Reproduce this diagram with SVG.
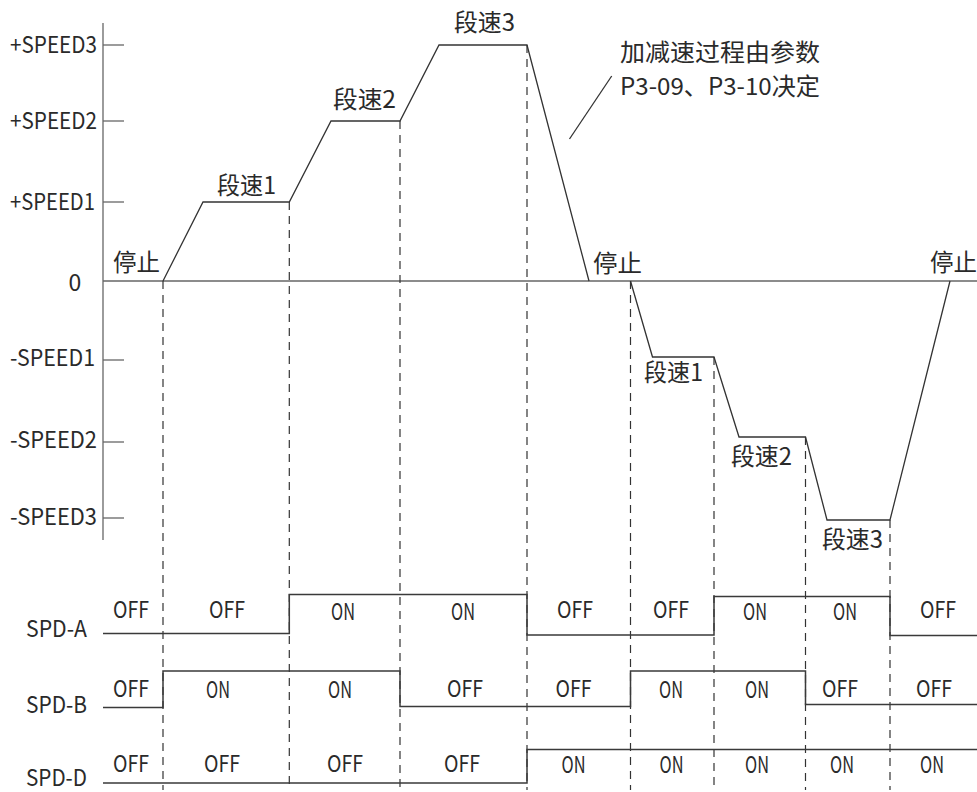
<svg xmlns="http://www.w3.org/2000/svg" width="977" height="792" viewBox="0 0 977 792">
<style>
text{font-family:"Noto Sans CJK SC","Liberation Sans",sans-serif;fill:#2a2a2a}
.lat{font-size:23px}
.cjk{font-size:24px}
.mid{text-anchor:middle}
.end{text-anchor:end}
.axis{stroke:#666;stroke-width:1.3;fill:none}
.curve{stroke:#333;stroke-width:1.3;fill:none}
.sig{stroke:#3a3a3a;stroke-width:1.5;fill:none}
.dash{stroke:#333;stroke-width:1.2;stroke-dasharray:8 6;fill:none}
</style>
<rect width="977" height="792" fill="#fff"/>
<g id="axis">
<line class="axis" x1="103" y1="23" x2="103" y2="540"/>
<line class="axis" x1="103" y1="281" x2="977" y2="281"/>
<line class="axis" x1="103" y1="45" x2="124" y2="45"/>
<line class="axis" x1="103" y1="121" x2="124" y2="121"/>
<line class="axis" x1="103" y1="202" x2="124" y2="202"/>
<line class="axis" x1="103" y1="360" x2="124" y2="360"/>
<line class="axis" x1="103" y1="442" x2="124" y2="442"/>
<line class="axis" x1="103" y1="518" x2="124" y2="518"/>
<text class="lat" x="10" y="53" textLength="87" lengthAdjust="spacingAndGlyphs">+SPEED3</text>
<text class="lat" x="10" y="129" textLength="87" lengthAdjust="spacingAndGlyphs">+SPEED2</text>
<text class="lat" x="10" y="210" textLength="85" lengthAdjust="spacingAndGlyphs">+SPEED1</text>
<text class="lat mid" x="75" y="291">0</text>
<text class="lat" x="10" y="366" textLength="85" lengthAdjust="spacingAndGlyphs">-SPEED1</text>
<text class="lat" x="10" y="448" textLength="87" lengthAdjust="spacingAndGlyphs">-SPEED2</text>
<text class="lat" x="10" y="525" textLength="87" lengthAdjust="spacingAndGlyphs">-SPEED3</text>
</g>
<g id="guides">
<line class="dash" x1="163" y1="281" x2="163" y2="790"/>
<line class="dash" x1="289.3" y1="202" x2="289.3" y2="790"/>
<line class="dash" x1="400" y1="121" x2="400" y2="790"/>
<line class="dash" x1="527" y1="45" x2="527" y2="790"/>
<line class="dash" x1="630.5" y1="281" x2="630.5" y2="790"/>
<line class="dash" x1="714" y1="357" x2="714" y2="790"/>
<line class="dash" x1="805.5" y1="437" x2="805.5" y2="790"/>
<line class="dash" x1="890" y1="520" x2="890" y2="790"/>
</g>
<g id="speed-curve">
<polyline class="curve" points="163,281 203,202 289.3,202 331,121 400,121 439,45 527,45 589,281"/>
<polyline class="curve" points="630.5,281 652.5,357 714,357 739,437 805.5,437 827,520 890,520 950,281"/>
<line class="curve" x1="569.5" y1="139" x2="611.7" y2="76"/>
</g>
<g id="speed-labels">
<text class="cjk" x="113" y="271" textLength="47" lengthAdjust="spacingAndGlyphs">停止</text>
<text class="cjk" x="217" y="194" textLength="59" lengthAdjust="spacingAndGlyphs">段速1</text>
<text class="cjk" x="333" y="108" textLength="63" lengthAdjust="spacingAndGlyphs">段速2</text>
<text class="cjk" x="454" y="31" textLength="61" lengthAdjust="spacingAndGlyphs">段速3</text>
<text class="cjk" x="593" y="272" textLength="49" lengthAdjust="spacingAndGlyphs">停止</text>
<text class="cjk" x="930" y="271" textLength="47" lengthAdjust="spacingAndGlyphs">停止</text>
<text class="cjk" x="644" y="381" textLength="59" lengthAdjust="spacingAndGlyphs">段速1</text>
<text class="cjk" x="731" y="465" textLength="61" lengthAdjust="spacingAndGlyphs">段速2</text>
<text class="cjk" x="822" y="548" textLength="61" lengthAdjust="spacingAndGlyphs">段速3</text>
<text class="cjk" x="620" y="61" textLength="200" lengthAdjust="spacingAndGlyphs">加减速过程由参数</text>
<text class="cjk" x="620" y="95" textLength="200" lengthAdjust="spacingAndGlyphs">P3-09、P3-10决定</text>
</g>
<g id="spd-a">
<polyline class="sig" points="103,633.5 289.3,633.5 289.3,594.5 527,594.5 527,635 714,635 714,596.5 890,596.5 890,635.5 977,635.5"/>
<text class="lat" x="26" y="637" textLength="61" lengthAdjust="spacingAndGlyphs">SPD-A</text>
<g class="lat mid">
<text x="131" y="618" textLength="36" lengthAdjust="spacingAndGlyphs">OFF</text>
<text x="227" y="618" textLength="36" lengthAdjust="spacingAndGlyphs">OFF</text>
<text x="343" y="620" textLength="24" lengthAdjust="spacingAndGlyphs">ON</text>
<text x="463" y="620" textLength="24" lengthAdjust="spacingAndGlyphs">ON</text>
<text x="575" y="618" textLength="36" lengthAdjust="spacingAndGlyphs">OFF</text>
<text x="671" y="618" textLength="36" lengthAdjust="spacingAndGlyphs">OFF</text>
<text x="755" y="620" textLength="24" lengthAdjust="spacingAndGlyphs">ON</text>
<text x="845" y="620" textLength="24" lengthAdjust="spacingAndGlyphs">ON</text>
<text x="938" y="618" textLength="36" lengthAdjust="spacingAndGlyphs">OFF</text>
</g>
</g>
<g id="spd-b">
<polyline class="sig" points="103,707.5 163,707.5 163,671 400,671 400,706.5 630.5,706.5 630.5,671 805.5,671 805.5,704.5 977,704.5"/>
<text class="lat" x="26" y="713" textLength="61" lengthAdjust="spacingAndGlyphs">SPD-B</text>
<g class="lat mid">
<text x="131" y="697" textLength="36" lengthAdjust="spacingAndGlyphs">OFF</text>
<text x="218" y="698" textLength="24" lengthAdjust="spacingAndGlyphs">ON</text>
<text x="340" y="698" textLength="24" lengthAdjust="spacingAndGlyphs">ON</text>
<text x="465" y="697" textLength="36" lengthAdjust="spacingAndGlyphs">OFF</text>
<text x="573.5" y="697" textLength="36" lengthAdjust="spacingAndGlyphs">OFF</text>
<text x="671" y="698" textLength="24" lengthAdjust="spacingAndGlyphs">ON</text>
<text x="757" y="698" textLength="24" lengthAdjust="spacingAndGlyphs">ON</text>
<text x="840" y="697" textLength="36" lengthAdjust="spacingAndGlyphs">OFF</text>
<text x="934" y="697" textLength="36" lengthAdjust="spacingAndGlyphs">OFF</text>
</g>
</g>
<g id="spd-d">
<polyline class="sig" points="103,783 527,783 527,749.5 977,749.5"/>
<text class="lat" x="26" y="786" textLength="61" lengthAdjust="spacingAndGlyphs">SPD-D</text>
<g class="lat mid">
<text x="131" y="772" textLength="36" lengthAdjust="spacingAndGlyphs">OFF</text>
<text x="222" y="772" textLength="36" lengthAdjust="spacingAndGlyphs">OFF</text>
<text x="345" y="772" textLength="36" lengthAdjust="spacingAndGlyphs">OFF</text>
<text x="462" y="772" textLength="36" lengthAdjust="spacingAndGlyphs">OFF</text>
<text x="573.5" y="773" textLength="24" lengthAdjust="spacingAndGlyphs">ON</text>
<text x="671.5" y="773" textLength="24" lengthAdjust="spacingAndGlyphs">ON</text>
<text x="757" y="773" textLength="24" lengthAdjust="spacingAndGlyphs">ON</text>
<text x="842" y="773" textLength="24" lengthAdjust="spacingAndGlyphs">ON</text>
<text x="932" y="773" textLength="24" lengthAdjust="spacingAndGlyphs">ON</text>
</g>
</g>
</svg>
